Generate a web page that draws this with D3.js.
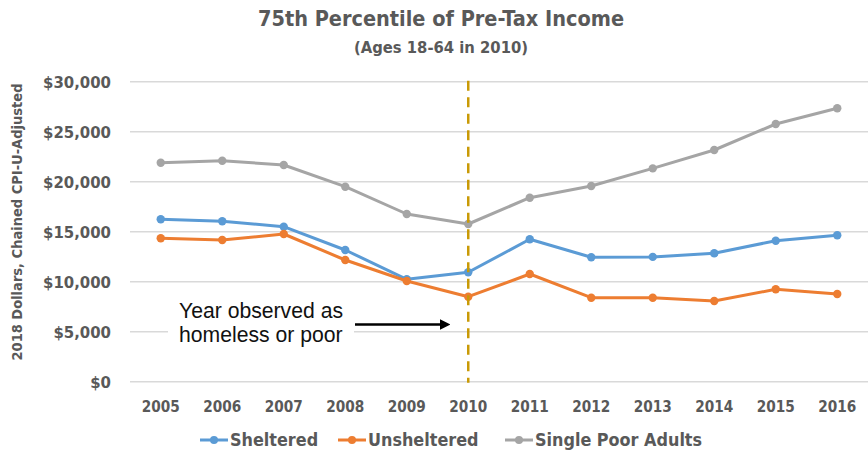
<!DOCTYPE html>
<html>
<head>
<meta charset="utf-8">
<script src="https://cdn.jsdelivr.net/npm/d3@7"></script>
<style>
  html, body { margin: 0; padding: 0; background: #fff; }
  svg { display: block; }
</style>
</head>
<body>
<svg id="chart" width="868" height="455"></svg>
<script>
// Years on the category axis
const years = ["2005","2006","2007","2008","2009","2010","2011","2012","2013","2014","2015","2016"];

// 75th percentile of pre-tax income, 2018 dollars
const sheltered   = [16240, 16040, 15500, 13170, 10240, 10940, 14240, 12440, 12480, 12840, 14100, 14640];
const unsheltered = [14340, 14170, 14770, 12170, 10070,  8500, 10770,  8400,  8400,  8070,  9240,  8770];
const singlePoor  = [21900, 22100, 21670, 19500, 16770, 15770, 18400, 19570, 21330, 23170, 25770, 27340];

const seriesNames  = ["Sheltered", "Unsheltered", "Single Poor Adults"];
const seriesColors = ["#5B9BD5", "#ED7D31", "#A5A5A5"];
const yTicks = [0, 5000, 10000, 15000, 20000, 25000, 30000];
const markerYear = "2010";

const title = "75th Percentile of Pre-Tax Income";
const subtitle = "(Ages 18-64 in 2010)";
const yTitle = "2018 Dollars, Chained CPI-U-Adjusted";
const noteLines = ["Year observed as", "homeless or poor"];

const svg = d3.select("#chart");
const narrow = "'Liberation Sans Narrow', 'DejaVu Sans Condensed', sans-serif";
const textGrey = "#595959";

const margin = { left: 130, right: 868, top: 81.7, bottom: 381.7 };

const x = d3.scaleBand().domain(years).range([margin.left, margin.right]);
const y = d3.scaleLinear().domain([0, 30000]).range([margin.bottom, margin.top]);
const cx = d => x(d) + x.bandwidth() / 2;

// shrink or grow a text node until it spans the wanted width
function fitWidth(sel, w) {
  sel.each(function () {
    const node = this;
    let fs = parseFloat(d3.select(node).attr("font-size"));
    for (let i = 0; i < 4; i++) {
      const cur = node.getComputedTextLength();
      if (cur > 0) fs = fs * w / cur;
      d3.select(node).attr("font-size", fs);
    }
  });
}

// horizontal gridlines
svg.append("g")
  .selectAll("line")
  .data(yTicks)
  .join("line")
  .attr("x1", margin.left)
  .attr("x2", margin.right)
  .attr("y1", d => y(d))
  .attr("y2", d => y(d))
  .attr("stroke", "#D9D9D9")
  .attr("stroke-width", 1.5);

// y tick labels
const yAxis = d3.axisLeft(y).tickValues(yTicks).tickSize(0).tickPadding(0)
  .tickFormat(d => "$" + d3.format(",")(d));
const yg = svg.append("g").attr("transform", "translate(111,0)").call(yAxis);
yg.select(".domain").remove();
yg.selectAll("text")
  .attr("font-family", narrow)
  .attr("font-weight", "bold")
  .attr("font-size", 15)
  .attr("fill", textGrey)
  .attr("dy", "0.35em");
yg.selectAll("text").filter(d => d === 30000).call(fitWidth, 68);
const ySize = yg.selectAll("text").filter(d => d === 30000).attr("font-size");
yg.selectAll("text").attr("font-size", ySize);

// x tick labels
const xAxis = d3.axisBottom(x).tickSize(0).tickPadding(0);
const xg = svg.append("g").attr("transform", "translate(0,401)").call(xAxis);
xg.select(".domain").remove();
xg.selectAll("text")
  .attr("font-family", narrow)
  .attr("font-weight", "bold")
  .attr("font-size", 14)
  .attr("fill", textGrey)
  .attr("dy", "0.71em");
xg.selectAll("text").filter(d => d === "2005").call(fitWidth, 38);
const xSize = xg.selectAll("text").filter(d => d === "2005").attr("font-size");
xg.selectAll("text").attr("font-size", xSize);

// annotation box with text and arrow
const note = svg.append("g");
note.append("rect")
  .attr("x", 168).attr("y", 300).attr("width", 186).attr("height", 50)
  .attr("fill", "#fff");
note.selectAll("text")
  .data(noteLines)
  .join("text")
  .attr("x", 179)
  .attr("y", (d, i) => 318 + i * 24)
  .attr("font-family", "'Liberation Sans', Arial, sans-serif")
  .attr("font-size", 18)
  .attr("fill", "#111")
  .text(d => d);
note.select("text").call(fitWidth, 164);
const noteSize = note.select("text").attr("font-size");
note.selectAll("text").attr("font-size", noteSize);

svg.append("defs").append("marker")
  .attr("id", "arrowHead")
  .attr("viewBox", "0 0 10 10")
  .attr("refX", 2).attr("refY", 5)
  .attr("markerWidth", 4).attr("markerHeight", 4)
  .attr("markerUnits", "strokeWidth")
  .attr("orient", "auto")
  .append("path")
  .attr("d", "M0,0 L10,5 L0,10 Z")
  .attr("fill", "#000");
svg.append("line")
  .attr("x1", 355).attr("x2", 442)
  .attr("y1", 324.5).attr("y2", 324.5)
  .attr("stroke", "#000")
  .attr("stroke-width", 2.6)
  .attr("marker-end", "url(#arrowHead)");

// series lines with markers
const series = [sheltered, unsheltered, singlePoor];
const line = d3.line().x((d, i) => cx(years[i])).y(d => y(d));
series.forEach((vals, k) => {
  const g = svg.append("g");
  g.append("path")
    .datum(vals)
    .attr("d", line)
    .attr("fill", "none")
    .attr("stroke", seriesColors[k])
    .attr("stroke-width", 3)
    .attr("stroke-linejoin", "round");
  g.selectAll("circle")
    .data(vals)
    .join("circle")
    .attr("cx", (d, i) => cx(years[i]))
    .attr("cy", d => y(d))
    .attr("r", 4.2)
    .attr("fill", seriesColors[k]);
});

// dashed reference line at the observation year, drawn over the series
svg.append("line")
  .attr("x1", cx(markerYear)).attr("x2", cx(markerYear))
  .attr("y1", margin.top - 1).attr("y2", margin.bottom + 1)
  .attr("stroke", "#C99A06")
  .attr("stroke-width", 2.5)
  .attr("stroke-dasharray", "10,6.5");

// title and subtitle
const t = svg.append("text")
  .attr("x", 441).attr("y", 26)
  .attr("text-anchor", "middle")
  .attr("font-family", narrow)
  .attr("font-weight", "bold")
  .attr("font-size", 21)
  .attr("fill", textGrey)
  .text(title);
t.call(fitWidth, 366);
const s = svg.append("text")
  .attr("x", 441).attr("y", 53)
  .attr("text-anchor", "middle")
  .attr("font-family", narrow)
  .attr("font-weight", "bold")
  .attr("font-size", 16)
  .attr("fill", textGrey)
  .text(subtitle);
s.call(fitWidth, 174);

// rotated y-axis title
const yt = svg.append("text")
  .attr("transform", "translate(22,222) rotate(-90)")
  .attr("text-anchor", "middle")
  .attr("font-family", narrow)
  .attr("font-weight", "bold")
  .attr("font-size", 13)
  .attr("fill", textGrey)
  .text(yTitle);
yt.call(fitWidth, 277);

// legend
const legendX = [200, 338, 505];
const lg = svg.append("g");
seriesNames.forEach((name, k) => {
  const g = lg.append("g").attr("transform", `translate(${legendX[k]},440)`);
  g.append("line")
    .attr("x1", 0).attr("x2", 28)
    .attr("stroke", seriesColors[k])
    .attr("stroke-width", 3);
  g.append("circle").attr("cx", 14).attr("r", 4).attr("fill", seriesColors[k]);
  g.append("text")
    .attr("x", 30).attr("dy", "0.35em")
    .attr("font-family", narrow)
    .attr("font-weight", "bold")
    .attr("font-size", 16)
    .attr("fill", textGrey)
    .text(name);
});
const lt = lg.selectAll("text").nodes();
d3.select(lt[2]).call(fitWidth, 167);
const lSize = d3.select(lt[2]).attr("font-size");
lg.selectAll("text").attr("font-size", lSize);
</script>
</body>
</html>
